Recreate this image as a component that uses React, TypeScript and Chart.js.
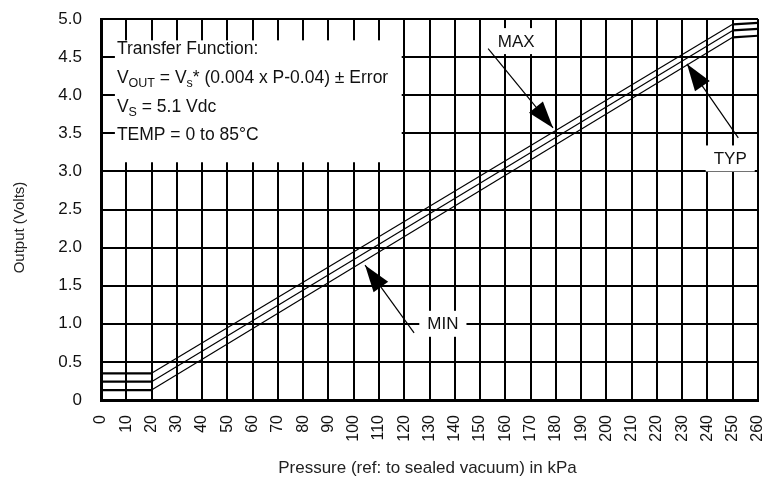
import React, { useEffect, useRef } from "react";
import { Chart, registerables } from "chart.js";

Chart.register(...registerables);

// ---- Data ----
const pressureKPa = [0, 20, 250, 260];
const maxOutput = [0.35, 0.35, 4.93, 4.95];
const typOutput = [0.24, 0.24, 4.85, 4.87];
const minOutput = [0.13, 0.13, 4.76, 4.78];

const xTickValues = [0, 10, 20, 30, 40, 50, 60, 70, 80, 90, 100, 110, 120, 130, 140, 150, 160, 170, 180, 190, 200, 210, 220, 230, 240, 250, 260];
const yTickValues = [0, 0.5, 1, 1.5, 2, 2.5, 3, 3.5, 4, 4.5, 5];

const xTitle = "Pressure (ref: to sealed vacuum) in kPa";
const yTitle = "Output (Volts)";

// annotation anchors in data units (kPa, V)
const infoBox = [5.5, 4.72, 119, 3.12]; // x0, yTop, x1, yBottom
const labelNames = ["MAX", "TYP", "MIN"];
const labelAnchorX = [164.3, 249, 135.3];
const labelAnchorY = [4.71, 3.17, 1.0];
const arrowTailX = [153.2, 252.2, 123.9];
const arrowTailY = [4.61, 3.44, 0.88];
const arrowTipX = [178.9, 231.9, 104.5];
const arrowTipY = [3.57, 4.41, 1.77];

const FONT = "'Liberation Sans', Arial, Helvetica, sans-serif";

type Run = [string, boolean];
const infoLines: Run[][] = [
  [["Transfer Function:", false]],
  [["V", false], ["OUT", true], [" = V", false], ["s", true], ["* (0.004 x P-0.04) \u00B1 Error", false]],
  [["V", false], ["S", true], [" = 5.1 Vdc", false]],
  [["TEMP = 0 to 85\u00B0C", false]],
];

const annotationPlugin = {
  id: "annotations",
  afterDatasetsDraw(chart: any) {
    const ctx = chart.ctx as CanvasRenderingContext2D;
    const xs = chart.scales.x;
    const ys = chart.scales.y;
    const area = chart.chartArea;
    ctx.save();

    // info box (white background over the grid)
    const bx0 = xs.getPixelForValue(infoBox[0]);
    const by0 = ys.getPixelForValue(infoBox[1]);
    const bx1 = xs.getPixelForValue(infoBox[2]);
    const by1 = ys.getPixelForValue(infoBox[3]);
    ctx.fillStyle = "#fff";
    ctx.fillRect(bx0, by0, bx1 - bx0, by1 - by0);

    ctx.fillStyle = "#111";
    ctx.textBaseline = "alphabetic";
    ctx.textAlign = "left";
    const mainSize = 17.5;
    const subSize = 12.5;
    infoLines.forEach((runs, i) => {
      let x = bx0 + 2;
      const y = by0 + 14 + i * 28.7;
      runs.forEach(([t, sub]) => {
        ctx.font = `${sub ? subSize : mainSize}px ${FONT}`;
        ctx.fillText(t, x, sub ? y + 4 : y);
        x += ctx.measureText(t).width;
      });
    });

    // label backgrounds
    ctx.font = `17px ${FONT}`;
    const boxes = labelNames.map((name, i) => {
      const cx = xs.getPixelForValue(labelAnchorX[i]);
      const cy = ys.getPixelForValue(labelAnchorY[i]);
      const w = ctx.measureText(name).width + 16;
      const h = 26;
      ctx.fillStyle = "#fff";
      ctx.fillRect(cx - w / 2, cy - h / 2, w, h);
      return [cx, cy];
    });

    // arrows
    labelNames.forEach((_, i) => {
      const tx = xs.getPixelForValue(arrowTailX[i]);
      const ty = ys.getPixelForValue(arrowTailY[i]);
      const hx = xs.getPixelForValue(arrowTipX[i]);
      const hy = ys.getPixelForValue(arrowTipY[i]);
      const ang = Math.atan2(hy - ty, hx - tx);
      ctx.strokeStyle = "#000";
      ctx.lineWidth = 1.2;
      ctx.beginPath();
      ctx.moveTo(tx, ty);
      ctx.lineTo(hx, hy);
      ctx.stroke();
      const len = 27;
      const half = 9;
      const bx = hx - Math.cos(ang) * len;
      const by = hy - Math.sin(ang) * len;
      ctx.fillStyle = "#000";
      ctx.beginPath();
      ctx.moveTo(hx, hy);
      ctx.lineTo(bx + Math.sin(ang) * half, by - Math.cos(ang) * half);
      ctx.lineTo(bx - Math.sin(ang) * half, by + Math.cos(ang) * half);
      ctx.closePath();
      ctx.fill();
    });

    // label texts
    ctx.font = `17px ${FONT}`;
    ctx.textAlign = "center";
    ctx.textBaseline = "middle";
    ctx.fillStyle = "#111";
    labelNames.forEach((name, i) => {
      ctx.fillText(name, boxes[i][0], boxes[i][1] + 1);
    });

    // axis titles
    ctx.fillStyle = "#222";
    ctx.font = `17px ${FONT}`;
    ctx.textAlign = "center";
    ctx.textBaseline = "middle";
    ctx.fillText(xTitle, (area.left + area.right) / 2 - 2, area.bottom + 68);
    ctx.save();
    ctx.translate(19.5, (area.top + area.bottom) / 2 + 18);
    ctx.rotate(-Math.PI / 2);
    ctx.font = `15px ${FONT}`;
    ctx.fillText(yTitle, 0, 0);
    ctx.restore();

    ctx.restore();
  },
};

export default function App() {
  const ref = useRef<HTMLCanvasElement | null>(null);
  useEffect(() => {
    if (!ref.current) return;
    const mk = (vals: number[]) => pressureKPa.map((p, i) => ({ x: p, y: vals[i] }));
    const segW = (c: any) => (c.p0DataIndex === 0 || c.p0DataIndex === 2 ? 2.2 : 1.2);
    const common = {
      borderColor: "#000",
      backgroundColor: "#000",
      borderWidth: 1.2,
      pointRadius: 0,
      tension: 0,
      fill: false,
      segment: { borderWidth: segW },
    };
    const chart = new Chart(ref.current, {
      type: "line",
      data: {
        datasets: [
          { label: "MAX", data: mk(maxOutput), ...common },
          { label: "TYP", data: mk(typOutput), ...common },
          { label: "MIN", data: mk(minOutput), ...common },
        ],
      },
      options: {
        responsive: false,
        animation: false,
        layout: { padding: { top: 19, right: 9, left: 0, bottom: 0 } },
        plugins: { legend: { display: false }, tooltip: { enabled: false } },
        scales: {
          x: {
            type: "linear",
            min: 0,
            max: 260,
            afterFit: (s: any) => {
              s.height = 87;
              s.paddingLeft = 0;
              s.paddingRight = 0;
            },
            afterBuildTicks: (s: any) => { s.ticks = xTickValues.map((v) => ({ value: v })); },
            grid: { color: "#000", lineWidth: 2, drawTicks: false },
            border: { color: "#000", width: 3 },
            ticks: {
              autoSkip: false,
              minRotation: 90,
              maxRotation: 90,
              padding: 15,
              color: "#111",
              font: { family: FONT, size: 16 },
              callback: (v: any) => String(v),
            },
          },
          y: {
            type: "linear",
            min: 0,
            max: 5,
            afterFit: (s: any) => {
              s.width = 101;
              s.paddingTop = 0;
              s.paddingBottom = 0;
            },
            afterBuildTicks: (s: any) => { s.ticks = yTickValues.map((v) => ({ value: v })); },
            grid: { color: "#000", lineWidth: 2, drawTicks: false },
            border: { color: "#000", width: 3 },
            ticks: {
              padding: 19,
              color: "#111",
              font: { family: FONT, size: 17 },
              callback: (v: any) => (Number(v) === 0 ? "0" : Number(v).toFixed(1)),
            },
          },
        },
      },
      plugins: [annotationPlugin],
    } as any);
    return () => chart.destroy();
  }, []);
  return (
    <div style={{ position: "absolute", left: 0, top: 0, width: 767, height: 487, background: "#fff" }}>
      <canvas ref={ref} width={767} height={487} style={{ display: "block" }} />
    </div>
  );
}
